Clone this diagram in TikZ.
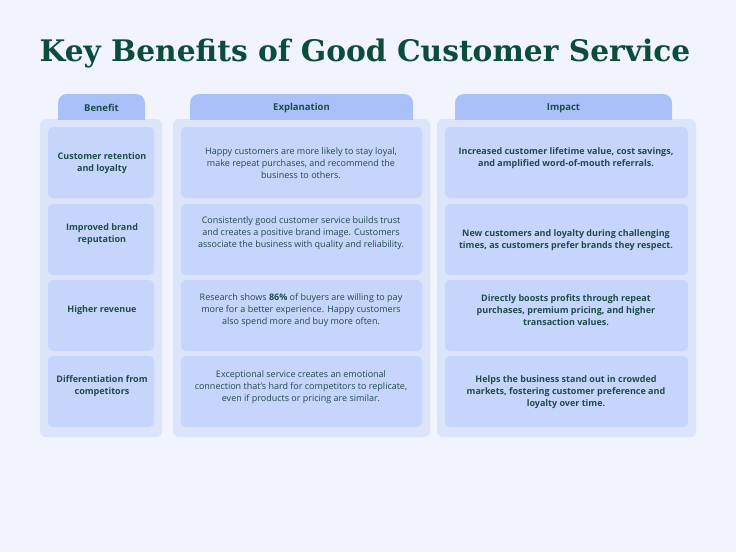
\documentclass[tikz,border=0pt]{standalone}
\usepackage{fontspec}
\setmainfont{Open Sans}
\newfontfamily\titlefont{DejaVu Serif}
\definecolor{pagebg}{HTML}{F1F4FD}
\definecolor{colbg}{HTML}{DCE4FA}
\definecolor{cellbg}{HTML}{C6D5FB}
\definecolor{tabbg}{HTML}{A9C0F9}
\definecolor{inkgreen}{HTML}{0B4D3A}
\definecolor{inktext}{HTML}{1F4D4A}
\tikzset{
  colbox/.style={fill=colbg, rounded corners=6pt},
  cellbox/.style={fill=cellbg, rounded corners=5pt},
  tabbox/.style={fill=tabbg, rounded corners=9pt},
  celltext/.style={text=inktext, align=center, font=\fontsize{9}{12}\selectfont},
}
\begin{document}
\begin{tikzpicture}[x=1pt, y=-1pt]
	\useasboundingbox (0,0) rectangle (736,552);
	\fill[pagebg] (0,0) rectangle (736,552);

	% title
	\node[text=inkgreen, font=\titlefont\bfseries\fontsize{29.7}{35}\selectfont] (title) at (365,54) {Key Benefits of Good Customer Service};

	% columns: left / right of container, tab left / right, name, text width
	\foreach \cl/\cr/\tl/\tr/\name/\tw in {%
		40/162/58/145/Benefit/100,
		173/430/190/413/Explanation/225,
		437/696/455/672/Impact/235%
	}{
		\fill[colbox] (\cl,119) rectangle (\cr,437);
		\begin{scope}
			\clip (\tl-5,90) rectangle (\tr+5,119);
			\fill[tabbox] (\tl,94) rectangle (\tr,130);
		\end{scope}
		\node[text=inktext, font=\bfseries\fontsize{9.5}{11}\selectfont] (tab-\name) at ({(\tl+\tr)/2},108) {\name};
		\foreach \top in {127,204,280,356}{
			\fill[cellbox] (\cl+8,\top) rectangle (\cr-8,\top+71);
		}
	}

	% benefit cells
	\foreach \y/\txt [count=\i] in {%
		163/{Customer retention\\and loyalty},
		234/{Improved brand\\reputation},
		310/{Higher revenue},
		386/{Differentiation from\\competitors}%
	}{
		\node[celltext, font=\bfseries\fontsize{9}{12}\selectfont] (benefit-\i) at (102,\y) {\txt};
	}

	% explanation cells
	\foreach \y/\txt [count=\i] in {%
		163/{Happy customers are more likely to stay loyal,\\make repeat purchases, and recommend the\\business to others.},
		233/{Consistently good customer service builds trust\\and creates a positive brand image. Customers\\associate the business with quality and reliability.},
		310/{Research shows \textbf{86\%} of buyers are willing to pay\\more for a better experience. Happy customers\\also spend more and buy more often.},
		387/{Exceptional service creates an emotional\\connection that's hard for competitors to replicate,\\even if products or pricing are similar.}%
	}{
		\node[celltext] (explain-\i) at (301,\y) {\txt};
	}

	% impact cells
	\foreach \y/\txt [count=\i] in {%
		158/{Increased customer lifetime value, cost savings,\\and amplified word-of-mouth referrals.},
		240/{New customers and loyalty during challenging\\times, as customers prefer brands they respect.},
		310/{Directly boosts profits through repeat\\purchases, premium pricing, and higher\\transaction values.},
		392/{Helps the business stand out in crowded\\markets, fostering customer preference and\\loyalty over time.}%
	}{
		\node[celltext, font=\bfseries\fontsize{9}{12}\selectfont] (impact-\i) at (566,\y) {\txt};
	}
\end{tikzpicture}
\end{document}
